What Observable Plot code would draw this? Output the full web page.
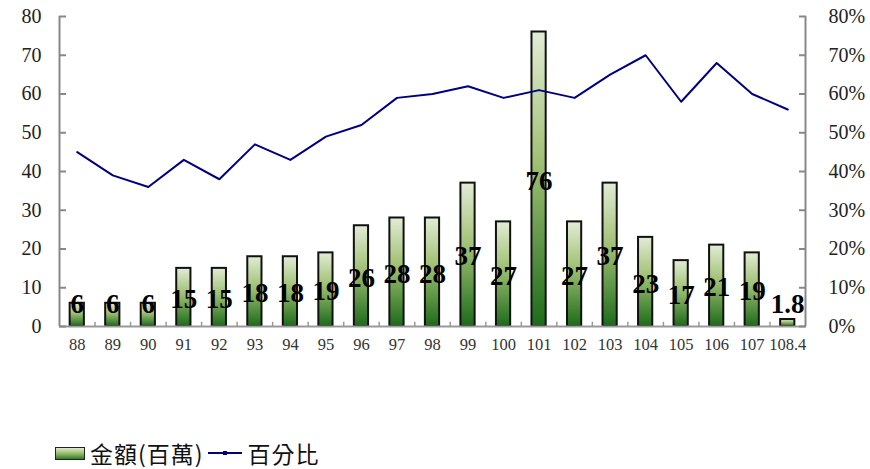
<!DOCTYPE html>
<html>
<head>
<meta charset="utf-8">
<script src="https://cdn.jsdelivr.net/npm/d3@7"></script>
<script src="https://cdn.jsdelivr.net/npm/@observablehq/plot@0.6"></script>
<style>
  html, body { margin: 0; padding: 0; background: #fff; }
  #chart { position: relative; width: 870px; height: 469px; }
  #legend { position: absolute; left: 55px; top: 436px; display: flex; align-items: center;
    font-family: "Noto Sans CJK TC", "Noto Sans", sans-serif; font-size: 23px; letter-spacing: 1px; color: #111; }
  .sw { width: 28px; height: 11px; border: 1px solid #222; background: linear-gradient(#dfead0, #8fb562 55%, #2d7a2a); margin-right: 5px; }
  .ln { position: relative; width: 34px; height: 2px; background: #000080; margin: 0 6px 0 4px; }
  .ln::after { content: ""; position: absolute; left: 15px; top: -1px; width: 4px; height: 4px; background: #000080; }
</style>
</head>
<body>
<div id="chart"></div>
<script>
const years = ["88","89","90","91","92","93","94","95","96","97","98","99","100","101","102","103","104","105","106","107","108.4"];
const amounts = [6,6,6,15,15,18,18,19,26,28,28,37,27,76,27,37,23,17,21,19,1.8];
const percents = [45,39,36,43,38,47,43,49,52,59,60,62,59,61,59,65,70,58,68,60,56];
const amountLabels = ["6","6","6","15","15","18","18","19","26","28","28","37","27","76","27","37","23","17","21","19","1.8"];
const leftTicks = [0,10,20,30,40,50,60,70,80];

const data = years.map((y, i) => ({year: y, v: amounts[i], p: percents[i], label: amountLabels[i]}));

const W = 870, ML = 59, MR = 65;
const bw = (W - ML - MR) / years.length;

const plot = Plot.plot({
  width: W,
  height: 380,
  marginTop: 16,
  marginBottom: 54,
  marginLeft: ML,
  marginRight: MR,
  style: {fontFamily: "'Liberation Serif', 'Times New Roman', serif", background: "#fff", overflow: "visible"},
  x: {type: "band", domain: years, paddingInner: 0.6, paddingOuter: 0.3, round: false, label: null},
  y: {domain: [0, 80], label: null},
  marks: [
    Plot.barY(data, {x: "year", y: "v", fill: "url(#barGrad)", stroke: "#111", strokeWidth: 2}),
    Plot.ruleY([0], {stroke: "#999", strokeWidth: 2}),
    Plot.ruleX([years[0]], {x: d => d, y1: 0, y2: 80, dx: -bw/2, stroke: "#888", strokeWidth: 2}),
    Plot.ruleX([years[years.length-1]], {x: d => d, y1: 0, y2: 80, dx: bw/2, stroke: "#888", strokeWidth: 2}),
    Plot.ruleX(years.slice(1), {x: d => d, y1: 0, y2: 1.1, dx: -bw/2, stroke: "#999", strokeWidth: 1.5}),
    Plot.line(data, {x: "year", y: "p", stroke: "#000080", strokeWidth: 2}),
    Plot.text(data, {x: "year", y: d => Math.max(d.v/2 - 0.5, 5.8), text: "label", fontSize: 27, fontWeight: "bold", fill: "#000", letterSpacing: "-1.5px"}),
    Plot.axisY(leftTicks, {anchor: "left", tickSize: -7, tickPadding: 25, fontSize: 20, stroke: "#888", strokeWidth: 2, fill: "#222"}),
    Plot.axisY(leftTicks, {anchor: "right", tickSize: -7, tickPadding: 30, fontSize: 20, stroke: "#888", strokeWidth: 2, fill: "#222", tickFormat: d => d + "%"}),
    Plot.axisX({tickSize: 0, tickPadding: 12, fontSize: 16.5, fill: "#333", letterSpacing: "-0.5px"})
  ]
});

d3.select(plot).insert("defs", ":first-child").html(`
  <linearGradient id="barGrad" x1="0" y1="0" x2="0" y2="1">
    <stop offset="0" stop-color="#e2ecd6"/>
    <stop offset="0.45" stop-color="#9fbf72"/>
    <stop offset="1" stop-color="#1d6b1a"/>
  </linearGradient>`);
document.getElementById("chart").appendChild(plot);

const legend = document.createElement("div");
legend.id = "legend";
legend.innerHTML = `<span class="sw"></span><span>金額(百萬)</span><span class="ln"></span><span>百分比</span>`;
document.getElementById("chart").appendChild(legend);
</script>
</body>
</html>
